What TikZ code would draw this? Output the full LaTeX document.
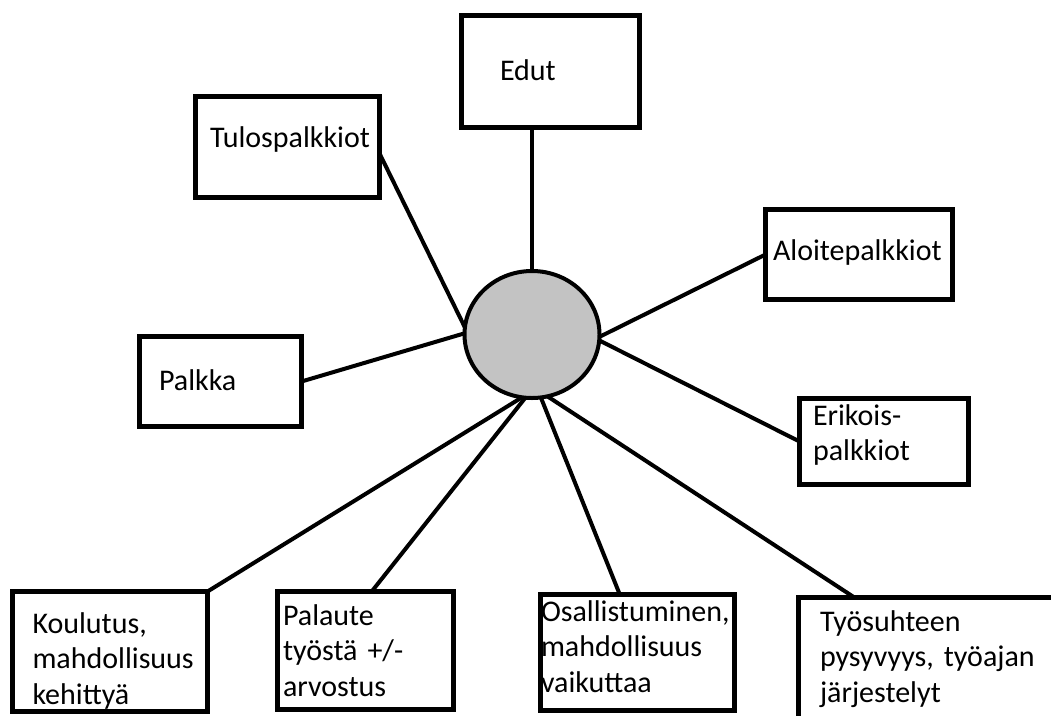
\documentclass[tikz,border=0pt]{standalone}
\usepackage{fontspec}
\setmainfont{Carlito}
\usetikzlibrary{shapes.geometric,backgrounds}
\definecolor{hubgray}{RGB}{195,195,195}
\begin{document}
\begin{tikzpicture}[x=1pt,y=-1pt,
  box/.style={draw=black, line width=5pt, rectangle, inner ysep=0pt, outer sep=0pt,
    align=left, anchor=base west, font=\fontsize{30}{35.5}\selectfont},
  conn/.style={draw=black, line width=4pt},
  hub/.style={ellipse, draw=black, line width=4pt, fill=hubgray,
    minimum width=135pt, minimum height=127pt, inner sep=0pt, outer sep=0pt}]
\useasboundingbox (0,0) rectangle (1051,715);
\clip (0,0) rectangle (1051,715);

\node[box, text width=101pt, inner xsep=38.5pt, text height=64.5pt, text depth=47.5pt] (edut) at (461.5,80) {Edut};
\node[box, text width=155pt, inner xsep=14.5pt, text height=50.5pt, text depth=50.5pt] (tulos) at (195.5,147) {Tulospalkkiot};
\node[box, text width=172pt, inner xsep=7.5pt, text height=50.5pt, text depth=39.5pt] (aloite) at (765.5,260) {Aloitepalkkiot};
\node[box, text width=142pt, inner xsep=13.5pt, text height=26.5pt, text depth=59.5pt] (erikois) at (799.5,425) {Erikois-\\palkkiot};
\node[box, text width=123pt, inner xsep=19.5pt, text height=53.5pt, text depth=36.5pt] (palkka) at (139.5,390) {Palkka};
\node[box, text width=155pt, inner xsep=20pt, text height=41.5pt, text depth=78.5pt] (koulutus) at (12.5,633) {Koulutus,\\mahdollisuus\\kehittyä};
\node[box, text width=165pt, inner xsep=5.5pt, text height=33.5pt, text depth=84.5pt] (palaute) at (277.5,625) {Palaute\\työstä +/-\\arvostus};
\node[box, text width=193pt, inner xsep=0.5pt, text height=26.5pt, text depth=89.5pt] (osall) at (540.5,621) {Osallistuminen,\\mahdollisuus\\vaikuttaa};
\node[box, text width=230pt, inner xsep=21.5pt, text height=33.5pt, text depth=97pt] (tyo) at (798.5,631) {Työsuhteen\\pysyvyys, työajan\\järjestelyt};

\node[hub] (c) at (532,334.5) {};

\begin{pgfonlayer}{background}
\fill[white] (0,0) rectangle (1051,715);
\draw[conn] (edut.south -| c.north) -- (c.north);
\draw[conn] (tulos.-4) -- (c.174);
\draw[conn] (palkka.east) -- (c.179);
\draw[conn] (aloite.west) -- (c.-2);
\draw[conn] (erikois.west) -- (c.-5);
\draw[conn] (koulutus.north east) -- (c.-99);
\draw[conn] (palaute.84) -- (c.-96);
\draw[conn] (osall.107) -- (c.-82);
\draw[conn] (tyo.141) -- (c.-76);
\end{pgfonlayer}
\end{tikzpicture}
\end{document}
